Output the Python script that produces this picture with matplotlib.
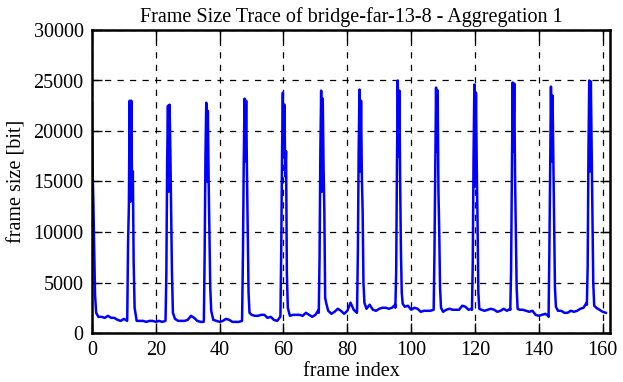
import matplotlib
matplotlib.use("Agg")
import matplotlib.pyplot as plt
import numpy as np

# peak frames (I-frames) and the sub-frame offsets used to draw each burst
peak_frames = [12, 24, 36, 48, 60, 72, 84, 96, 108, 120, 132, 144, 156]
peak_offsets = [-0.95, -0.7, -0.45, -0.2, 0.05, 0.3, 0.55, 0.8, 1.05, 1.35]
peak_values = [
    [1500, 9000, 12500, 23000, 13000, 23000, 14000, 16000, 7000, 2500],
    [1400, 6000, 17000, 22500, 14000, 22600, 18000, 12000, 6000, 2000],
    [1300, 8000, 17500, 22800, 15000, 22000, 15000, 10000, 4500, 2200],
    [1900, 8000, 17000, 23200, 17000, 23000, 16000, 10000, 4000, 2000],
    [1900, 8500, 18000, 23800, 17500, 22600, 15500, 18000, 6000, 2500],
    [2000, 7500, 18000, 24000, 14000, 23200, 16500, 12000, 3500, 3000],
    [2200, 8000, 18000, 24100, 16000, 23000, 15500, 12000, 5000, 3000],
    [2500, 6000, 16500, 25000, 17500, 24000, 15000, 8000, 4000, 2900],
    [2300, 8000, 16000, 24300, 18000, 24000, 14000, 10000, 4500, 2500],
    [2300, 7000, 17500, 24600, 14500, 23800, 16500, 11000, 4000, 2400],
    [2300, 6000, 16000, 24800, 18000, 24700, 15500, 10000, 4500, 2400],
    [1600, 8000, 16500, 24400, 17000, 23500, 17000, 10000, 4500, 2600],
    [2800, 6500, 18000, 25000, 16000, 24900, 18000, 12000, 5000, 2700],
]

# first frame burst
first_x = [0, 0.2, 0.45, 0.7, 0.95, 1.3]
first_values = [22700, 16000, 12500, 8000, 3800, 2000]

# frames between bursts (p+2 .. p+11)
segment_starts = [0, 12, 24, 36, 48, 60, 72, 84, 96, 108, 120, 132, 144, 156]
segment_values = [
    [1600, 1600, 1500, 1700, 1500, 1500, 1300, 1200, 1400, 1200],
    [1200, 1200, 1200, 1100, 1200, 1200, 1100, 1200, 1100, 1200],
    [1400, 1200, 1200, 1200, 1300, 1700, 1500, 1200, 1100, 1100],
    [1300, 1200, 1100, 1200, 1400, 1300, 1100, 1100, 1100, 1200],
    [1800, 1700, 1700, 1800, 1800, 1500, 1600, 1300, 1200, 1600],
    [1700, 1800, 1800, 1800, 1700, 2000, 1800, 1600, 1800, 2300],
    [2200, 1900, 2100, 2400, 2200, 1900, 2200, 3000, 2300, 2000],
    [2400, 2800, 2300, 2200, 2400, 2500, 2500, 2400, 2500, 2800],
    [2600, 2700, 2300, 2500, 2400, 2100, 2200, 2200, 2200, 2300],
    [2100, 2300, 2400, 2300, 2300, 2300, 2700, 2600, 2300, 2400],
    [2300, 2200, 2300, 2400, 2300, 2100, 2200, 2400, 2200, 2400],
    [2300, 2300, 2200, 2100, 2200, 1800, 1700, 1800, 1900, 1700],
    [2200, 2200, 2000, 2000, 2200, 2100, 2200, 2400, 2500, 3000],
    [2500, 2300, 2100, 2000],
]

xs = list(first_x)
ys = list(first_values)
for p, vals in zip(peak_frames, peak_values):
    xs += [p + o for o in peak_offsets]
    ys += vals
for s, vals in zip(segment_starts, segment_values):
    xs += [s + 2 + i for i in range(len(vals))]
    ys += vals
order = np.argsort(xs)
x = np.array(xs)[order]
y = np.array(ys)[order]

plt.rcParams['font.family'] = ['Liberation Serif', 'DejaVu Serif']
fig = plt.figure(figsize=(6.23, 3.82), dpi=100)
ax = fig.add_axes([92/623, 1-333/382, 518/623, 303/382])
ax.plot(x, y, color='#0000ff', lw=1.8)
ax.set_xlim(0, 162.3)
ax.set_ylim(0, 30000)
ax.set_xticks(range(0, 161, 20))
ax.set_yticks(range(0, 30001, 5000))
ax.grid(True, color='black', linestyle=(0, (5, 5)), lw=0.9)
ax.tick_params(direction='in', top=True, right=True, length=7, width=1,
               labelsize=14.5, pad=6)
for sp in ax.spines.values():
    sp.set_linewidth(1.8)
ax.set_title('Frame Size Trace of bridge-far-13-8 - Aggregation 1', fontsize=14.5, pad=6)
ax.set_xlabel('frame index', fontsize=14.5, labelpad=1)
ax.set_ylabel('frame size [bit]', fontsize=14.5, labelpad=5)
fig.savefig('out.png', dpi=100)
